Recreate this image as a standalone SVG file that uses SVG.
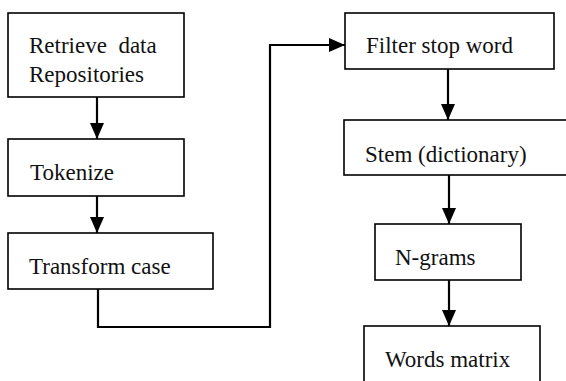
<svg xmlns="http://www.w3.org/2000/svg" width="566" height="381" viewBox="0 0 566 381" font-family="Liberation Serif, Times New Roman, DejaVu Serif, serif">
<style>
.box{fill:#fff;stroke:#000;stroke-width:1.6}
.t{font-size:23px;fill:#111}
.c{fill:none;stroke:#000;stroke-width:2.2}
</style>
<defs>
<marker id="ah" markerWidth="16" markerHeight="14" refX="16" refY="7" orient="auto" markerUnits="userSpaceOnUse">
<path d="M0,0 L16,7 L0,14 Z" fill="#000"/>
</marker>
</defs>
<rect width="566" height="381" fill="#fff"/>
<g id="n1"><rect class="box" x="8" y="13" width="176" height="84"/><text class="t" x="29" y="53" xml:space="preserve">Retrieve  data</text><text class="t" x="29" y="82">Repositories</text></g>
<g id="n2"><rect class="box" x="8" y="139" width="176" height="57"/><text class="t" x="30" y="180">Tokenize</text></g>
<g id="n3"><rect class="box" x="8" y="233" width="205" height="56"/><text class="t" x="29" y="274">Transform case</text></g>
<g id="n4"><rect class="box" x="345" y="13" width="209" height="56"/><text class="t" x="366" y="53">Filter stop word</text></g>
<g id="n5"><rect class="box" x="344" y="120" width="240" height="55"/><text class="t" x="365" y="162">Stem (dictionary)</text></g>
<g id="n6"><rect class="box" x="375" y="224" width="146" height="56"/><text class="t" x="395" y="265">N-grams</text></g>
<g id="n7"><rect class="box" x="364" y="326" width="176" height="70"/><text class="t" x="385" y="367">Words matrix</text></g>
<g id="connectors">
<path class="c" d="M97,97 V139" marker-end="url(#ah)"/>
<path class="c" d="M97,196 V233" marker-end="url(#ah)"/>
<path class="c" d="M98,289 V327 H270 V45 H345" marker-end="url(#ah)"/>
<path class="c" d="M448,69 V120" marker-end="url(#ah)"/>
<path class="c" d="M449,175 V224" marker-end="url(#ah)"/>
<path class="c" d="M449,280 V326" marker-end="url(#ah)"/>
</g>
</svg>
